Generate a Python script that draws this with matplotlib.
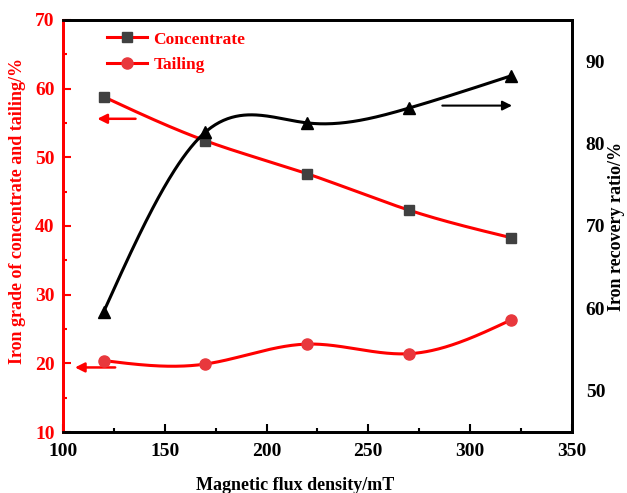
import numpy as np
import matplotlib
matplotlib.use("Agg")
import matplotlib.pyplot as plt

field = [120, 170, 220, 270, 320]
conc_grade = [58.8, 52.4, 47.6, 42.3, 38.3]
tail_grade = [20.4, 19.9, 22.8, 21.4, 26.3]
recovery = [59.6, 81.4, 82.5, 84.3, 88.2]
x_ticks = [100, 150, 200, 250, 300, 350]
left_ticks = [10, 20, 30, 40, 50, 60, 70]
right_ticks = [50, 60, 70, 80, 90]


def natural_spline(x, y, n=300):
    x = np.asarray(x, float); y = np.asarray(y, float)
    m = len(x); h = np.diff(x)
    A = np.zeros((m, m)); b = np.zeros(m)
    A[0, 0] = A[-1, -1] = 1
    for i in range(1, m - 1):
        A[i, i - 1] = h[i - 1]; A[i, i] = 2 * (h[i - 1] + h[i]); A[i, i + 1] = h[i]
        b[i] = 6 * ((y[i + 1] - y[i]) / h[i] - (y[i] - y[i - 1]) / h[i - 1])
    M = np.linalg.solve(A, b)
    xs = np.linspace(x[0], x[-1], n); ys = np.empty_like(xs)
    for k, xv in enumerate(xs):
        i = min(np.searchsorted(x, xv, side='right') - 1, m - 2)
        t1 = x[i + 1] - xv; t0 = xv - x[i]
        ys[k] = (M[i] * t1**3 + M[i + 1] * t0**3) / (6 * h[i]) \
            + (y[i] / h[i] - M[i] * h[i] / 6) * t1 + (y[i + 1] / h[i] - M[i + 1] * h[i] / 6) * t0
    return xs, ys


plt.rcParams['font.family'] = ['Liberation Serif', 'DejaVu Serif']
plt.rcParams['font.weight'] = 'bold'
plt.rcParams['font.size'] = 14

fig = plt.figure(figsize=(6.27, 4.93), dpi=100)
ax = fig.add_axes([0.1005, 0.1237, 0.8115, 0.836])
ax2 = ax.twinx()

red = '#ff0000'
xs, ys = natural_spline(field, conc_grade)
ax.plot(xs, ys, color=red, lw=2.2, zorder=3)
ax.plot(field, conc_grade, 's', color='#404040', ms=7, zorder=4)
xs, ys = natural_spline(field, tail_grade)
ax.plot(xs, ys, color=red, lw=2.2, zorder=3)
ax.plot(field, tail_grade, 'o', color='#e8383d', ms=8, zorder=4)

xs, ys = natural_spline(field, recovery)
ax2.plot(xs, ys, color='black', lw=2.2, zorder=3)
ax2.plot(field, recovery, '^', color='black', ms=8, zorder=4)

# legend proxies
h1, = ax.plot([], [], color=red, lw=2.2, marker='s', mfc='#404040', mec='#404040', ms=7)
h2, = ax.plot([], [], color=red, lw=2.2, marker='o', mfc='#e8383d', mec='#e8383d', ms=8)
leg = ax.legend([h1, h2], ['Concentrate', 'Tailing'], loc='upper left',
                bbox_to_anchor=(0.055, 1.01), frameon=False, handlelength=2.3,
                handletextpad=0.4, labelspacing=0.55,
                prop={'family': 'Liberation Serif', 'weight': 'bold', 'size': 12.5})
for t in leg.get_texts():
    t.set_color(red)

# arrows
ax.annotate('', xy=(115.5, 55.6), xytext=(137, 55.6),
            arrowprops=dict(arrowstyle='-|>', color=red, lw=1.8, mutation_scale=14))
ax.annotate('', xy=(104.5, 19.4), xytext=(127, 19.4),
            arrowprops=dict(arrowstyle='-|>', color=red, lw=1.8, mutation_scale=14))
ax2.annotate('', xy=(322, 84.6), xytext=(285, 84.6),
             arrowprops=dict(arrowstyle='-|>', color='black', lw=1.5, mutation_scale=14))

ax.set_xlim(100, 350)
ax.set_ylim(10, 70)
ax2.set_ylim(45, 95)
ax.set_xticks(x_ticks)
ax.set_yticks(left_ticks)
ax2.set_yticks(right_ticks)
ax.set_xticks([125, 175, 225, 275, 325], minor=True)
ax.set_yticks([15, 25, 35, 45, 55, 65], minor=True)

ax.tick_params(axis='x', which='major', direction='in', length=6, width=1.5, pad=8)
ax.tick_params(axis='x', which='minor', direction='in', length=3, width=1.5)
ax.tick_params(axis='y', which='major', direction='in', length=6, width=1.5, colors=red, pad=6)
ax.tick_params(axis='y', which='minor', direction='in', length=3, width=1.5, colors=red)
ax2.tick_params(axis='y', which='major', length=0, pad=10)

for s in ['top', 'right', 'bottom']:
    ax2.spines[s].set_linewidth(2)
    ax.spines[s].set_linewidth(2)
ax2.spines['left'].set_color(red)
ax2.spines['left'].set_linewidth(2)
ax.spines['left'].set_color(red)
ax.spines['left'].set_linewidth(2)

ax.set_xlabel('Magnetic flux density/mT', fontsize=13, fontweight='bold')
ax.xaxis.set_label_coords(0.456, -0.108)
ax.set_ylabel('Iron grade of concentrate and tailing/%', fontsize=13, fontweight='bold', color=red)
ax.yaxis.set_label_coords(-0.072, 0.536)
ax2.set_ylabel('Iron recovery ratio/%', fontsize=13, fontweight='bold', labelpad=2)

fig.savefig('out.png', dpi=100)
